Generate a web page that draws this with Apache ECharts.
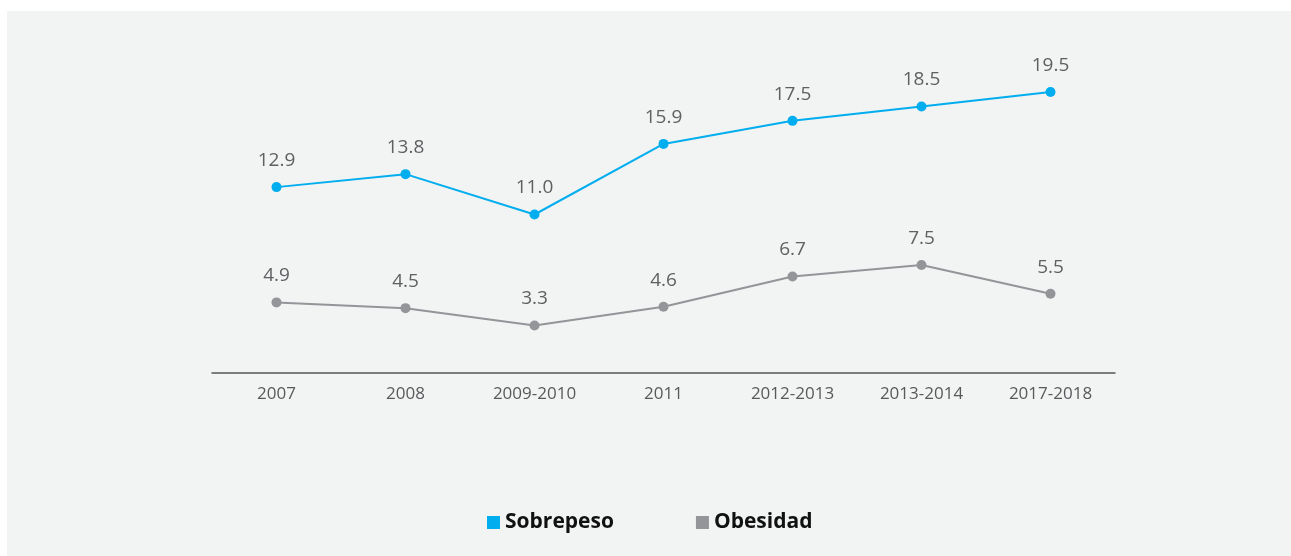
<!DOCTYPE html>
<html>
<head>
<meta charset="utf-8">
<script src="https://cdn.jsdelivr.net/npm/echarts@6/dist/echarts.min.js"></script>
<style>
    html, body { margin: 0; padding: 0; background: #fff; }
    #chart { width: 1291px; height: 556px; }
</style>
</head>
<body>
<div id="chart"></div>
<script>
    // periodos de la encuesta
    const categories = ['2007', '2008', '2009-2010', '2011', '2012-2013', '2013-2014', '2017-2018'];
    const sobrepeso = [12.9, 13.8, 11.0, 15.9, 17.5, 18.5, 19.5];
    const obesidad = [4.9, 4.5, 3.3, 4.6, 6.7, 7.5, 5.5];

    const blue = '#00aeef';
    const grey = '#939598';
    const font = 'Open Sans';

    const myChart = echarts.init(document.getElementById('chart'));
    const option = {
        backgroundColor: '#fff',
        animation: false,
        graphic: [{
            type: 'rect',
            z: -10,
            silent: true,
            shape: { x: 7, y: 11, width: 1284, height: 545 },
            style: { fill: '#f2f3f3' }
        }],
        grid: { left: 212, right: 176, top: 56, bottom: 183 },
        legend: {
            left: 482,
            top: 507,
            icon: 'rect',
            itemWidth: 13,
            itemHeight: 13,
            itemGap: 82,
            textStyle: { fontFamily: font, fontWeight: 'bold', fontSize: 21, color: '#111' },
            data: ['Sobrepeso', 'Obesidad']
        },
        xAxis: {
            type: 'category',
            data: categories,
            boundaryGap: true,
            axisLine: { lineStyle: { color: '#555', width: 1.5 } },
            axisTick: { inside: true, alignWithLabel: true, length: 6, lineStyle: { color: '#555' } },
            axisLabel: { margin: 13, fontFamily: font, fontSize: 17, color: '#58595b' }
        },
        yAxis: {
            type: 'value',
            min: 0,
            max: 22,
            show: false
        },
        series: [{
            name: 'Sobrepeso',
            type: 'line',
            data: sobrepeso,
            symbol: 'circle',
            symbolSize: 10,
            lineStyle: { width: 2, color: blue },
            itemStyle: { color: blue },
            label: {
                show: true,
                position: 'top',
                distance: 12,
                fontFamily: font,
                fontSize: 19,
                color: '#5f6062',
                formatter: p => p.value.toFixed(1)
            }
        }, {
            name: 'Obesidad',
            type: 'line',
            data: obesidad,
            symbol: 'circle',
            symbolSize: 10,
            lineStyle: { width: 2, color: grey },
            itemStyle: { color: grey },
            label: {
                show: true,
                position: 'top',
                distance: 12,
                fontFamily: font,
                fontSize: 19,
                color: '#5f6062',
                formatter: p => p.value.toFixed(1)
            }
        }]
    };
    myChart.setOption(option);
</script>
</body>
</html>
